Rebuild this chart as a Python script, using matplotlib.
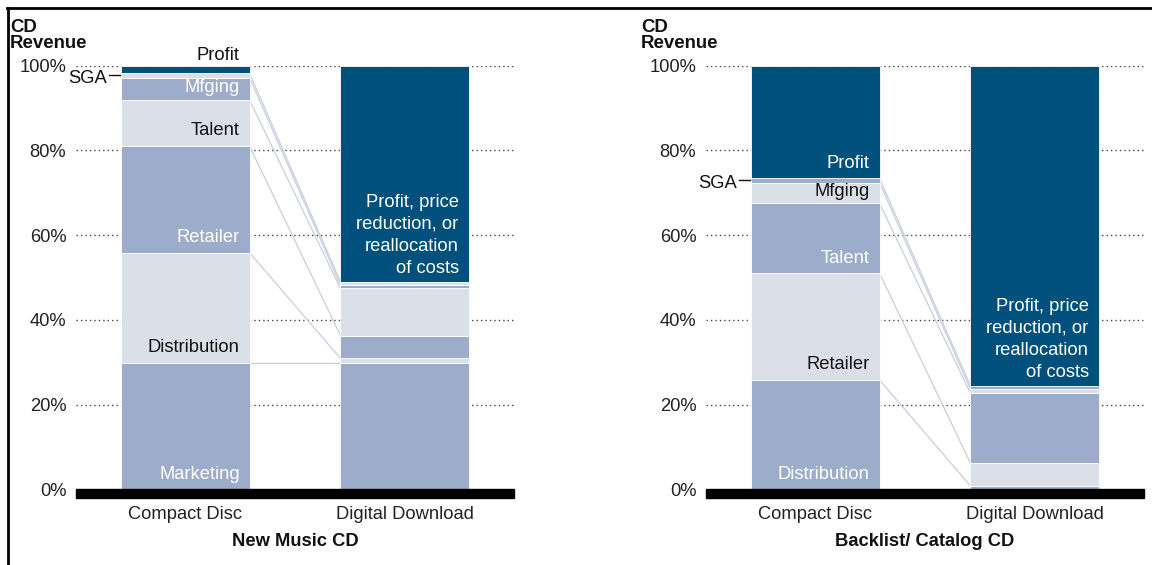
import matplotlib
matplotlib.use("Agg")
import matplotlib.pyplot as plt
from matplotlib.patches import Rectangle
from matplotlib.lines import Line2D
import matplotlib.transforms as mtransforms

plt.rcParams['font.family'] = ['Liberation Sans', 'DejaVu Sans']

# ---------------- data ----------------
categories = ['Compact Disc', 'Digital Download']
yticks = [0, 20, 40, 60, 80, 100]
ytick_labels = ['0%', '20%', '40%', '60%', '80%', '100%']

new_segments = ['Marketing', 'Distribution', 'Retailer', 'Talent', 'Mfging', 'SGA', 'Profit']
new_cd = [29.9, 25.95, 25.15, 10.9, 5.3, 1.05, 1.75]
new_dd = [29.9, 1.0, 5.4, 11.15, 0.8, 0.75, 51.0]

back_segments = ['Distribution', 'Retailer', 'Talent', 'Mfging', 'SGA', 'Profit']
back_cd = [25.8, 25.2, 16.5, 4.9, 1.0, 26.6]
back_dd = [0.8, 5.4, 16.5, 0.95, 0.8, 75.55]

panel_titles = ['New Music CD', 'Backlist/ Catalog CD']
dd_label = 'Profit, price\nreduction, or\nreallocation\nof costs'

# ---------------- style ----------------
BLUE = '#9DACCB'
LIGHT = '#DBDFE8'
DARK = '#00507E'
CONN = '#C6CEE0'
FS = 13.2
W, H = 1152, 565

fig = plt.figure(figsize=(W / 100, H / 100), dpi=100)

def seg_colors(n):
    cols = []
    for i in range(n - 1):
        cols.append(BLUE if i % 2 == 0 else LIGHT)
    cols.append(DARK)
    return cols

def draw_panel(left_px, segments, cd, dd, title, profit_inside):
    ax = fig.add_axes([left_px / W, 1 - 489.3 / H, 438 / W, (489.3 - 65.7) / H])
    ax.set_xlim(-0.5, 1.5)
    ax.set_ylim(0, 100)
    for s in ax.spines.values():
        s.set_visible(False)
    ax.set_xticks([])
    ax.set_yticks(yticks)
    ax.set_yticklabels(ytick_labels, fontsize=FS, color='#222222')
    ax.tick_params(axis='y', length=0, pad=7)
    # dotted grid
    for yv in yticks[1:]:
        ax.axhline(yv, color='#444444', lw=1.0, ls=(0, (1, 2.2)), zorder=0)

    bw = 0.585
    cols = seg_colors(len(segments))
    # stacked bars
    for xi, vals in enumerate([cd, dd]):
        bottom = 0
        for v, c in zip(vals, cols):
            ax.bar(xi, v, bw, bottom=bottom, color=c, edgecolor='white',
                   linewidth=0.6, zorder=2)
            bottom += v
    # connector lines
    cum_cd = 0
    cum_dd = 0
    for i in range(len(segments) - 1):
        cum_cd += cd[i]
        cum_dd += dd[i]
        ax.plot([bw / 2, 1 - bw / 2], [cum_cd, cum_dd], color=CONN, lw=0.9, zorder=1)

    # labels in CD bar
    bottom = 0
    xr = bw / 2 - 0.045
    for i, (name, v, c) in enumerate(zip(segments, cd, cols)):
        tcol = '#111111' if c == LIGHT else 'white'
        if name == 'SGA':
            yc = bottom + v / 2
            ax.text(-bw / 2 - 0.068, yc - 0.8, 'SGA', ha='right', va='center',
                    fontsize=FS, color='#111111')
            ax.plot([-bw / 2 - 0.058, -bw / 2 - 0.008], [yc, yc], color='#111111',
                    lw=1.0, clip_on=False)
        elif name == 'Profit' and not profit_inside:
            ax.text(xr, bottom + v + 2.4, name, ha='right', va='center',
                    fontsize=FS, color='#111111')
        else:
            ax.text(xr, bottom + min(3.6, 0.55 * v), name, ha='right', va='center',
                    fontsize=FS, color=tcol)
        bottom += v
    # label in DD bar
    dd_bottom = sum(dd[:-1])
    ax.text(1 + bw / 2 - 0.045, dd_bottom + 1.2, dd_label, ha='right', va='bottom',
            fontsize=FS, color='white', linespacing=1.38)

    # black baseline
    ax.add_patch(Rectangle((-0.5, -2.15), 2.0, 2.15, color='black', clip_on=False,
                           zorder=3))
    # category labels
    for xi, cat in enumerate(categories):
        ax.text(xi, -6.0, cat, ha='center', va='center', fontsize=FS, color='#222222')
    trans = mtransforms.blended_transform_factory(ax.transAxes, ax.transData)
    ax.text(0.5, -12.4, title, ha='center', va='center', fontsize=FS,
            fontweight='bold', color='#111111', transform=trans)
    return ax

draw_panel(76, new_segments, new_cd, new_dd, panel_titles[0], profit_inside=False)
draw_panel(706, back_segments, back_cd, back_dd, panel_titles[1], profit_inside=True)

# axis titles
for xpx in [10, 641]:
    fig.text(xpx / W, 1 - 27 / H, 'CD', fontsize=FS + 0.2, fontweight='bold',
             ha='left', va='center', color='#111111')
    fig.text(xpx / W, 1 - 43.5 / H, 'Revenue', fontsize=FS + 0.2, fontweight='bold',
             ha='left', va='center', color='#111111')

# frame lines (left and top)
fig.add_artist(Line2D([7.5 / W, 7.5 / W], [0, 1 - 7.5 / H], color='black', lw=2.0,
                      transform=fig.transFigure))
fig.add_artist(Line2D([6.5 / W, 1], [1 - 7.5 / H, 1 - 7.5 / H], color='black', lw=2.0,
                      transform=fig.transFigure))

fig.savefig('out.png', dpi=100, facecolor='white')
